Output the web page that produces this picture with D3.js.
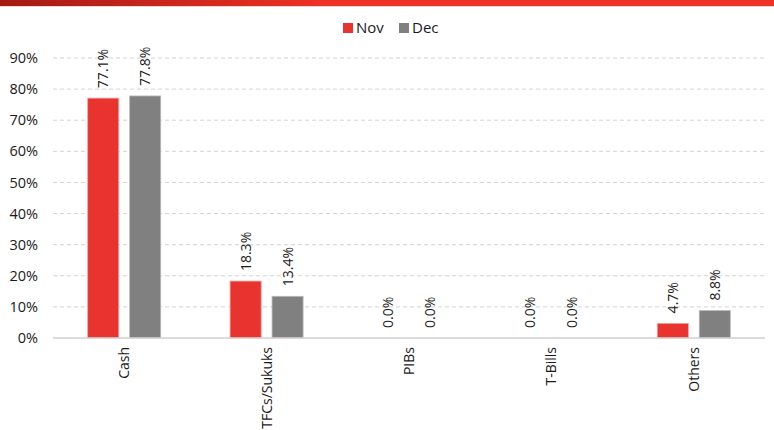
<!DOCTYPE html>
<html>
<head>
    <meta charset="utf-8">
    <title>Asset allocation</title>
    <script src="https://d3js.org/d3.v7.min.js"></script>
    <style>
        body { margin: 0; background: #fff; }
        text { font-family: "Open Sans", sans-serif; fill: #1a1a1a; }
    </style>
</head>
<body>
    <script>
        var categories = ["Cash", "TFCs/Sukuks", "PIBs", "T-Bills", "Others"];
        var seriesNames = ["Nov", "Dec"];
        var nov = [77.1, 18.3, 0.0, 0.0, 4.7];
        var dec = [77.8, 13.4, 0.0, 0.0, 8.8];
        var yTicks = [0, 10, 20, 30, 40, 50, 60, 70, 80, 90];
        var colors = ["#e8332e", "#808080"];

        var width = 774;
        var height = 430;
        var margin = { left: 53, right: 9, top: 58, bottom: 92 };

        var svg = d3.select("body").append("svg")
            .attr("width", width)
            .attr("height", height);

        // red banner at the top
        var grad = svg.append("defs").append("linearGradient")
            .attr("id", "topbar")
            .attr("x1", "0").attr("x2", "1");
        grad.append("stop").attr("offset", "0").attr("stop-color", "#a31a14");
        grad.append("stop").attr("offset", "0.42").attr("stop-color", "#ee3124");
        grad.append("stop").attr("offset", "1").attr("stop-color", "#ee3124");
        svg.append("rect")
            .attr("x", 0).attr("y", 0)
            .attr("width", width).attr("height", 6)
            .attr("fill", "url(#topbar)");
        svg.append("rect")
            .attr("x", 0).attr("y", 6)
            .attr("width", width).attr("height", 1)
            .attr("fill", "#f3d6d4");

        var x0 = d3.scaleBand()
            .domain(categories)
            .range([margin.left, width - margin.right]);

        var x1 = d3.scaleBand()
            .domain(seriesNames)
            .range([0, 73])
            .paddingInner(0.26);

        var y = d3.scaleLinear()
            .domain([0, 90])
            .range([height - margin.bottom, margin.top]);

        // grid
        svg.append("g")
            .selectAll("line")
            .data(yTicks.filter(function(d) { return d > 0; }))
            .enter()
            .append("line")
            .attr("x1", margin.left)
            .attr("x2", width - margin.right)
            .attr("y1", function(d) { return y(d); })
            .attr("y2", function(d) { return y(d); })
            .attr("stroke", "#d4d4d4")
            .attr("stroke-dasharray", "4,3");

        // y labels
        svg.append("g")
            .selectAll("text")
            .data(yTicks)
            .enter()
            .append("text")
            .attr("x", 38)
            .attr("y", function(d) { return y(d); })
            .attr("dy", "0.35em")
            .attr("text-anchor", "end")
            .style("font-size", "14.5px")
            .text(function(d) { return d + "%"; });

        var data = categories.map(function(c, i) {
            return { cat: c, values: [nov[i], dec[i]] };
        });

        var groups = svg.append("g")
            .selectAll("g")
            .data(data)
            .enter()
            .append("g")
            .attr("transform", function(d) {
                return "translate(" + (x0(d.cat) + x0.bandwidth() / 2 - 36.5) + ",0)";
            });

        groups.selectAll("rect")
            .data(function(d) { return d.values.map(function(v, j) { return { key: seriesNames[j], v: v, j: j }; }); })
            .enter()
            .append("rect")
            .attr("x", function(d) { return x1(d.key); })
            .attr("y", function(d) { return y(d.v); })
            .attr("width", x1.bandwidth())
            .attr("height", function(d) { return y(0) - y(d.v); })
            .attr("fill", function(d) { return colors[d.j]; })
            .attr("stroke", function(d) { return d.j === 0 ? "#f2a09c" : "#b8b8b8"; })
            .attr("stroke-width", 0.8)
            .style("display", function(d) { return d.v > 0 ? null : "none"; });

        groups.selectAll("text")
            .data(function(d) { return d.values.map(function(v, j) { return { key: seriesNames[j], v: v }; }); })
            .enter()
            .append("text")
            .attr("transform", function(d) {
                var cx = x1(d.key) + x1.bandwidth() / 2;
                return "translate(" + (cx + 5) + "," + (y(d.v) - 10) + ") rotate(-90)";
            })
            .attr("text-anchor", "start")
            .style("font-size", "14px")
            .text(function(d) { return d.v.toFixed(1) + "%"; });

        // baseline
        svg.append("line")
            .attr("x1", margin.left)
            .attr("x2", width - margin.right)
            .attr("y1", y(0))
            .attr("y2", y(0))
            .attr("stroke", "#d0d0d0")
            .attr("stroke-width", 1.5);

        // category labels
        svg.append("g")
            .selectAll("text")
            .data(categories)
            .enter()
            .append("text")
            .attr("transform", function(d) {
                return "translate(" + (x0(d) + x0.bandwidth() / 2 + 5) + "," + (y(0) + 9) + ") rotate(-90)";
            })
            .attr("text-anchor", "end")
            .style("font-size", "14px")
            .text(function(d) { return d; });

        // legend
        var legendX = [343, 399];
        var legend = svg.append("g")
            .selectAll("g")
            .data(seriesNames)
            .enter()
            .append("g")
            .attr("transform", function(d, i) { return "translate(" + legendX[i] + ",23)"; });
        legend.append("rect")
            .attr("width", 10).attr("height", 10)
            .attr("fill", function(d, i) { return colors[i]; });
        legend.append("text")
            .attr("x", 13)
            .attr("y", 5)
            .attr("dy", "0.35em")
            .style("font-size", "15px")
            .text(function(d) { return d; });
    </script>
</body>
</html>
